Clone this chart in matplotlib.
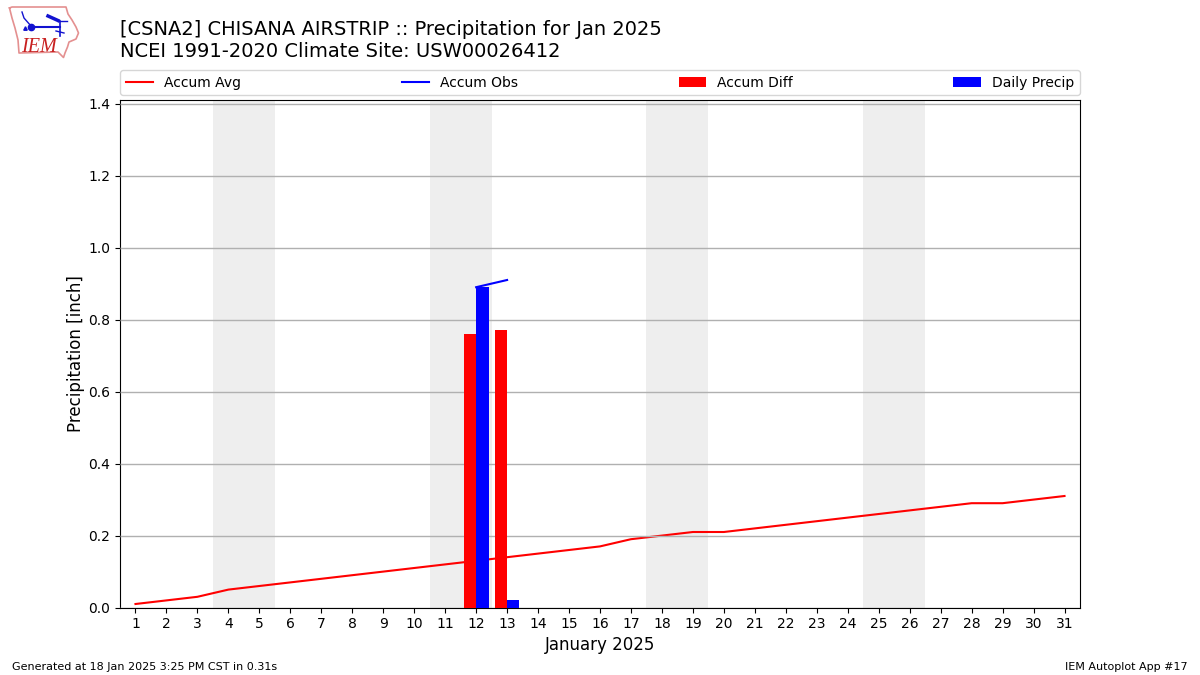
import numpy as np
import matplotlib
matplotlib.use("Agg")
import matplotlib.pyplot as plt

days = list(range(1, 32))
accum_avg = [0.01, 0.02, 0.03, 0.05, 0.06, 0.07, 0.08, 0.09, 0.10, 0.11, 0.12,
             0.13, 0.14, 0.15, 0.16, 0.17, 0.19, 0.20, 0.21, 0.21, 0.22, 0.23,
             0.24, 0.25, 0.26, 0.27, 0.28, 0.29, 0.29, 0.30, 0.31]
obs_days = [12, 13]
accum_obs = [0.89, 0.91]
accum_diff = [0.76, 0.77]
daily_precip = [0.89, 0.02]
weekend_spans = [(3.5, 5.5), (10.5, 12.5), (17.5, 19.5), (24.5, 26.5)]
title_lines = "[CSNA2] CHISANA AIRSTRIP :: Precipitation for Jan 2025\nNCEI 1991-2020 Climate Site: USW00026412"

W, H = 1200, 675
fig = plt.figure(figsize=(12, 6.75), dpi=100)
ax_h = 507.5
ax = fig.add_axes([120 / W, 67.4 / H, 960 / W, ax_h / H])

for a, b in weekend_spans:
    ax.axvspan(a, b, color="#eeeeee", lw=0, zorder=1)
ax.yaxis.grid(True, color="#b0b0b0", lw=1, zorder=1.5)
ax.set_axisbelow(False)
for gl in ax.get_ygridlines():
    gl.set_zorder(1.5)

ax.plot(days, accum_avg, color="red", lw=1.5, label="Accum Avg", zorder=2)
ax.plot(obs_days, accum_obs, color="blue", lw=1.5, label="Accum Obs", zorder=4)
ax.bar(obs_days, accum_diff, width=-0.4, align="edge", color="red", label="Accum Diff", zorder=3)
ax.bar(obs_days, daily_precip, width=0.4, align="edge", color="blue", label="Daily Precip", zorder=3)

ax.set_xlim(0.5, 31.5)
ax.set_ylim(0, 1.4097)
ax.set_xticks(days)
ax.set_yticks(np.arange(0, 1.41, 0.2))
ax.set_xlabel("January 2025", fontsize=12, labelpad=3.5)
ax.set_ylabel("Precipitation [inch]", fontsize=12, labelpad=2.5)
ax.legend(loc="lower left", bbox_to_anchor=(0, 1 + 5 / ax_h, 1, 0.05), ncol=4, mode="expand",
          borderaxespad=0, fontsize=10)

fig.text(120 / W, 1 - 61 / H, title_lines, fontsize=14, ha="left", va="bottom")
fig.text(12 / W, 1 - 670 / H, "Generated at 18 Jan 2025 3:25 PM CST in 0.31s", fontsize=8)
fig.text(1188 / W, 1 - 670 / H, "IEM Autoplot App #17", fontsize=8, ha="right")

# logo
logo = fig.add_axes([0, 1 - 60 / H, 90 / W, 60 / H])
logo.set_xlim(0, 90)
logo.set_ylim(60, 0)
logo.axis("off")
ox = [9.5, 12, 66, 68, 72, 76, 78.5, 76, 69, 67.5, 65, 63.5, 58, 19, 18, 15, 12, 9.5]
oy = [8, 7, 7, 14, 20, 27, 33, 39, 42, 47, 53, 57.5, 52, 53, 40, 28, 18, 8]
logo.plot(ox, oy, color="#e49090", lw=1.2)
blue = "#1212d0"
logo.plot([31, 60], [26.5, 26.5], color=blue, lw=1.5)
logo.plot([22, 24, 31], [12, 18, 26], color=blue, lw=1)
logo.plot([31], [26.5], "o", color=blue, ms=4.5)
logo.plot([25], [28], "^", color=blue, ms=2.5)
logo.plot([48, 58], [16, 20.5], color=blue, lw=2.5)
logo.plot([58, 67], [20.5, 20.5], color=blue, lw=1)
logo.plot([60, 60], [21, 36], color=blue, lw=1.2)
logo.plot([56, 64], [31, 33], color=blue, lw=1)
logo.text(21, 52, "IEM", color="#c82020", fontsize=14.5, family="Liberation Serif", style="italic", va="baseline")

fig.savefig("out.png", dpi=100)
